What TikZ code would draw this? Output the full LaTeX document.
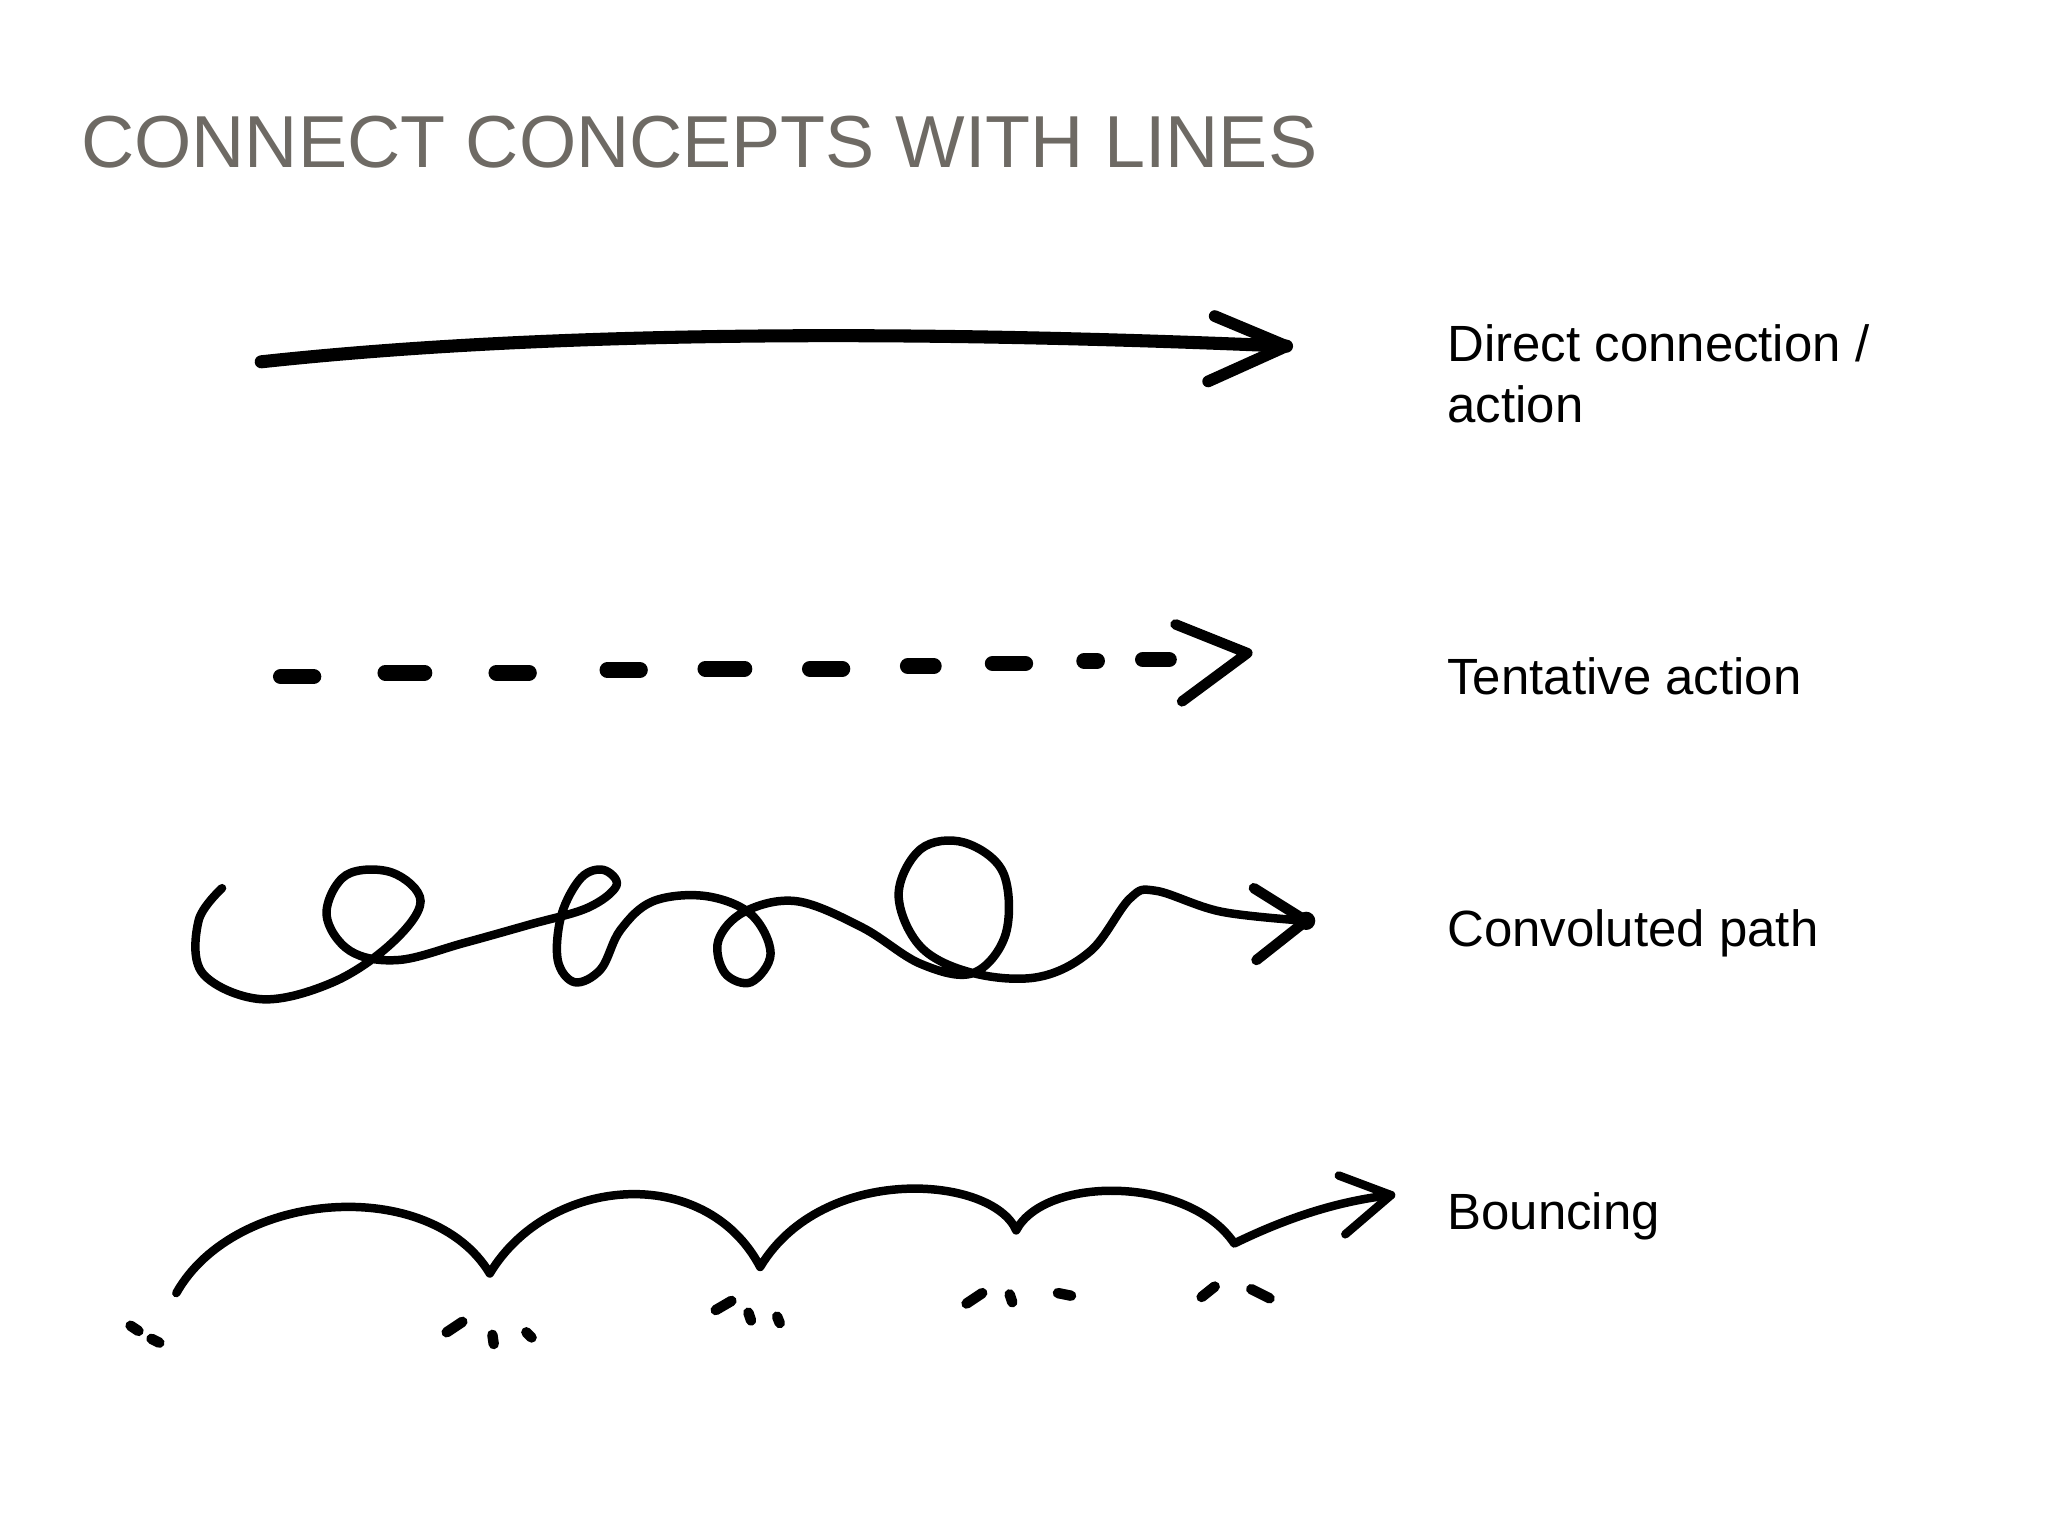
\documentclass[tikz,border=0pt]{standalone}
\usepackage{fontspec}
\setmainfont{Liberation Sans}
\definecolor{titlegray}{HTML}{6E6A64}
\begin{document}
\begin{tikzpicture}[x=1pt,y=-1pt,
  ink/.style={line width=7pt,line cap=round,line join=round},
  lbl/.style={anchor=base west,inner sep=0pt,font=\fontsize{39}{47}\selectfont,align=left},
  tick/.style={line width=8pt,line cap=round}]
\useasboundingbox[fill=white] (0,0) rectangle (1568,1176);
\node[anchor=base west,inner sep=0pt,text=titlegray,font=\fontsize{56.4}{60}\selectfont] (title) at (62,128) {CONNECT CONCEPTS WITH LINES};
% direct
\draw[ink,line width=10pt] (200,277) .. controls (450,250) and (750,255) .. (985,265);
\draw[ink,line width=9pt] (930,242) -- (985,265) -- (925,292);
% tentative
\foreach \a/\b/\y in {215/240/518,295/325/515,380/405/515,465/490/513,540/570/512,620/645/512,695/715/510,760/785/508,830/840/506,875/895/505}
  \draw[ink,line width=12pt] (\a,\y) -- (\b,\y);
\draw[ink,line width=8pt] (900,478) -- (955,500) -- (905,537);
% convoluted
\draw[ink,line width=6.5pt] plot[smooth,tension=0.6] coordinates {(170,680) (152,705) (155,745) (200,765) (255,752) (300,722) (322,690) (300,668) (265,670) (250,700) (268,728) (305,735) (355,722) (405,708) (450,695) (472,678) (462,666) (445,672) (430,700) (427,735) (440,752) (460,742) (475,712) (500,690) (540,686) (575,700) (590,730) (575,752) (555,745) (550,720) (570,698) (610,690) (660,710) (705,738) (745,745) (770,715) (768,668) (738,645) (705,650) (688,685) (705,725) (745,745) (795,748) (835,728) (865,688) (885,682) (935,698) (1000,705)};
\draw[ink,line width=8pt] (960,680) -- (1000,705) -- (962,735);
\fill (1000,705) circle (7pt);
% bouncing
\draw[ink,line width=6.5pt] (135,990) .. controls (180,910) and (330,900) .. (375,975)
  .. controls (420,900) and (540,890) .. (582,970)
  .. controls (630,890) and (760,900) .. (778,942)
  .. controls (800,900) and (910,900) .. (945,952)
  .. controls (980,935) and (1020,920) .. (1065,915);
\draw[ink,line width=6.5pt] (1025,900) -- (1065,915) -- (1030,945);
\foreach \p/\q in {{(100,1015)}/{(106,1019)},{(116,1025)}/{(122,1028)},{(342,1020)}/{(354,1012)},{(377,1022)}/{(378,1029)},{(403,1020)}/{(407,1024)},{(548,1003)}/{(560,996)},{(573,1005)}/{(575,1011)},{(595,1008)}/{(597,1013)},{(740,998)}/{(752,990)},{(773,991)}/{(775,997)},{(810,990)}/{(820,992)},{(920,993)}/{(930,985)},{(958,987)}/{(972,994)}}
  \draw[tick] \p -- \q;
\node[lbl,anchor=north west] (t1) at (1108,248) {Direct connection /\\action};
\node[lbl] (t2) at (1108,532) {Tentative action};
\node[lbl] (t3) at (1108,725) {Convoluted path};
\node[lbl] (t4) at (1108,941) {Bouncing};
\end{tikzpicture}
\end{document}
